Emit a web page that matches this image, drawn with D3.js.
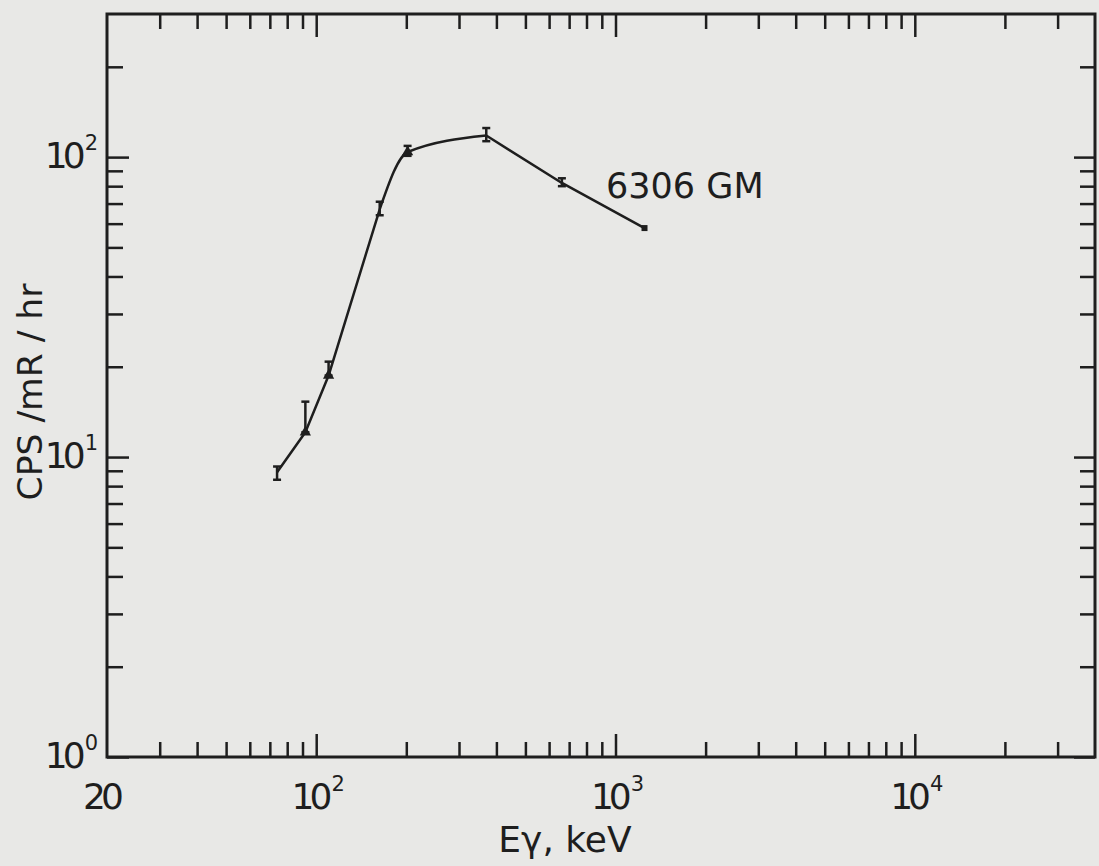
<!DOCTYPE html>
<html>
<head>
<meta charset="utf-8">
<script src="https://cdn.jsdelivr.net/npm/d3@7"></script>
<style>
  body { margin: 0; background: #e8e8e6; }
  svg { display: block; }
  text { font-family: "DejaVu Sans", sans-serif; fill: #1e1e1e; }
</style>
</head>
<body>
<div id="chart"></div>
<script>
"use strict"

// CPS per mR/hr response of the 6306 GM tube vs gamma energy

var energy = [74, 92, 110, 163, 202, 370, 662, 1250]
var response = [8.9, 12.1, 18.7, 67, 104, 118, 82, 58]
var errLow = [8.4, 12.1, 18.7, 64, 101, 113, 80, null]
var errHigh = [9.3, 15.3, 20.8, 71, 109, 125, 85, null]
var marker = ["bar", "tri", "tri", "bar", "tri", "bar", "bar", "dot"]

var xMajor = [100, 1000, 10000]
var xMinor = [30, 40, 50, 60, 70, 80, 90,
  200, 300, 400, 500, 600, 700, 800, 900,
  2000, 3000, 4000, 5000, 6000, 7000, 8000, 9000,
  20000, 30000]
var yMajor = [1, 10, 100]
var yMinor = [2, 3, 4, 5, 6, 7, 8, 9,
  20, 30, 40, 50, 60, 70, 80, 90, 200]

var xLabels = [[20, "20", ""], [100, "10", "2"], [1000, "10", "3"], [10000, "10", "4"]]
var yLabels = [[1, "10", "0"], [10, "10", "1"], [100, "10", "2"]]

var width = 1099
var height = 866
var plotL = 107, plotR = 1095, plotT = 14, plotB = 757
var ink = "#1e1e1e"

var x = d3.scaleLog().domain([20, 40000]).range([plotL, plotR])
var y = d3.scaleLog().domain([1, 300]).range([plotB, plotT])

var svg = d3.select("#chart").append("svg")
  .attr("width", width)
  .attr("height", height)

svg.append("rect")
  .attr("width", width).attr("height", height)
  .attr("fill", "#e8e8e6")

function tickAxis(axis, pos, values, size) {
  var g = svg.append("g")
    .attr("transform", pos)
    .call(axis.tickValues(values).tickSize(size).tickFormat(""))
  g.select(".domain").remove()
  g.selectAll("line").attr("stroke", ink).attr("stroke-width", 2.5)
}

// ticks point inward on all four sides
tickAxis(d3.axisBottom(x), "translate(0," + plotB + ")", xMinor, -15)
tickAxis(d3.axisBottom(x), "translate(0," + plotB + ")", xMajor, -23)
tickAxis(d3.axisTop(x), "translate(0," + plotT + ")", xMinor, -15)
tickAxis(d3.axisTop(x), "translate(0," + plotT + ")", xMajor, -23)
tickAxis(d3.axisLeft(y), "translate(" + plotL + ",0)", yMinor, -16)
tickAxis(d3.axisLeft(y), "translate(" + plotL + ",0)", yMajor, -22)
tickAxis(d3.axisRight(y), "translate(" + plotR + ",0)", yMinor, -15)
tickAxis(d3.axisRight(y), "translate(" + plotR + ",0)", yMajor, -21)

svg.append("rect")
  .attr("x", plotL).attr("y", plotT)
  .attr("width", plotR - plotL).attr("height", plotB - plotT)
  .attr("fill", "none")
  .attr("stroke", ink)
  .attr("stroke-width", 3)

function powLabel(sel, d) {
  sel.append("tspan")
    .attr("letter-spacing", -5)
    .text(d[1])
  if (d[2]) {
    sel.append("tspan")
      .attr("dx", 4)
      .attr("dy", -18)
      .attr("font-size", 21)
      .text(d[2])
  }
}

svg.append("g").selectAll("text")
  .data(xLabels)
  .enter().append("text")
    .attr("x", function(d) { return x(d[0]) + (d[2] ? 2 : -6) })
    .attr("y", plotB + 52)
    .attr("font-size", 36)
    .attr("text-anchor", "middle")
    .each(function(d) { powLabel(d3.select(this), d) })

svg.append("g").selectAll("text")
  .data(yLabels)
  .enter().append("text")
    .attr("x", plotL - 9)
    .attr("y", function(d) { return y(d[0]) + 11 })
    .attr("font-size", 36)
    .attr("text-anchor", "end")
    .each(function(d) { powLabel(d3.select(this), d) })

svg.append("text")
  .attr("x", 565)
  .attr("y", 852)
  .attr("font-size", 36)
  .attr("text-anchor", "middle")
  .text("E\u03b3, keV")

svg.append("text")
  .attr("transform", "translate(42,392) rotate(-90)")
  .attr("font-size", 34)
  .attr("text-anchor", "middle")
  .attr("textLength", 217)
  .attr("lengthAdjust", "spacingAndGlyphs")
  .text("CPS /mR / hr")

// data
var points = energy.map(function(e, i) {
  return { e: e, v: response[i], lo: errLow[i], hi: errHigh[i], m: marker[i] }
})

// hand-drawn look: straight runs, smooth only around the knee and the peak
function drawPiece(data, curve) {
  svg.append("path")
    .datum(data)
    .attr("d", d3.line()
      .x(function(d) { return x(d.e) })
      .y(function(d) { return y(d.v) })
      .curve(curve))
    .attr("fill", "none")
    .attr("stroke", ink)
    .attr("stroke-width", 2.5)
    .attr("stroke-linejoin", "round")
}
drawPiece(points.slice(0, 4), d3.curveLinear)
drawPiece(points.slice(3, 6), d3.curveMonotoneX)
drawPiece(points.slice(5), d3.curveLinear)

var pts = svg.append("g").selectAll("g")
  .data(points)
  .enter().append("g")

pts.filter(function(d) { return d.lo != null })
  .each(function(d) {
    var g = d3.select(this)
    var cx = x(d.e)
    g.append("line")
      .attr("x1", cx).attr("x2", cx)
      .attr("y1", y(d.lo)).attr("y2", y(d.hi))
      .attr("stroke", ink).attr("stroke-width", 2.5)
    ;[d.lo, d.hi].forEach(function(v) {
      g.append("line")
        .attr("x1", cx - 4).attr("x2", cx + 4)
        .attr("y1", y(v)).attr("y2", y(v))
        .attr("stroke", ink).attr("stroke-width", 2.5)
    })
  })

pts.filter(function(d) { return d.m === "tri" })
  .append("path")
    .attr("transform", function(d) { return "translate(" + x(d.e) + "," + y(d.v) + ")" })
    .attr("d", d3.symbol().type(d3.symbolTriangle).size(55))
    .attr("fill", ink)

pts.filter(function(d) { return d.m === "dot" })
  .append("rect")
    .attr("x", function(d) { return x(d.e) - 3 })
    .attr("y", function(d) { return y(d.v) - 3 })
    .attr("width", 6).attr("height", 6)
    .attr("fill", ink)

svg.append("text")
  .attr("x", x(930))
  .attr("y", y(82) + 15)
  .attr("font-size", 35)
  .text("6306 GM")
</script>
</body>
</html>
